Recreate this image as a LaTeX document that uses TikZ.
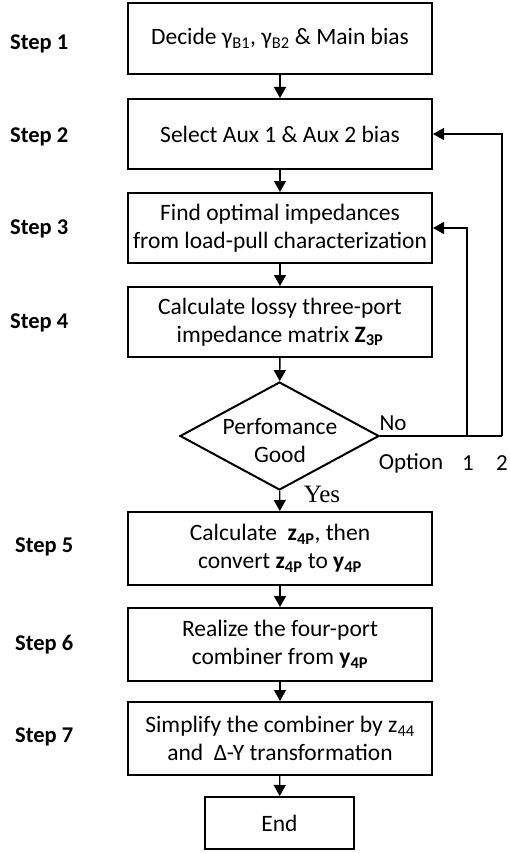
\documentclass[tikz,border=0pt]{standalone}
\usepackage{fontspec}
\setmainfont{Carlito}
\newfontfamily\serifyes{Liberation Serif}
\usetikzlibrary{shapes.geometric,arrows.meta}
\newcommand{\sbs}[1]{\textsubscript{#1}}
\begin{document}
\begin{tikzpicture}[x=1pt,y=-1pt,
  box/.style={draw,line width=2pt,minimum width=304pt,align=center,font=\fontsize{23.5}{28}\selectfont,inner sep=0pt},
  steplbl/.style={anchor=west,font=\fontsize{22.5}{26}\selectfont\bfseries,inner sep=0pt},
  lbl/.style={font=\fontsize{23}{26}\selectfont,inner sep=0pt},
  conn/.style={line width=1.4pt,-{Triangle[length=11pt,width=12pt]}},
  plain/.style={line width=1.4pt}]
\useasboundingbox (0,0) rectangle (510,853);
\node[box,minimum height=71pt] (b1) at (280,38.5) {Decide γ\sbs{B1}, γ\sbs{B2} \& Main bias};
\node[box,minimum height=70pt] (b2) at (280,134) {Select Aux 1 \& Aux 2 bias};
\node[box,minimum height=70pt] (b3) at (280,228) {Find optimal impedances\\from load-pull characterization};
\node[box,minimum height=70pt] (b4) at (280,322) {Calculate lossy three-port\\impedance matrix \textbf{Z\sbs{3P}}};
\node[draw,line width=2pt,diamond,minimum width=199pt,minimum height=108pt,inner sep=0pt] (d) at (279.5,436) {};
\node[align=center,inner sep=0pt,font=\fontsize{23.5}{28}\selectfont] (dt) at (280,441) {Perfomance\\Good};
\node[box,minimum height=73pt] (b5) at (280,548.5) {Calculate \ \textbf{z\sbs{4P}}, then\\convert \textbf{z\sbs{4P}} to \textbf{y\sbs{4P}}};
\node[box,minimum height=73pt] (b6) at (280,644.5) {Realize the four-port\\combiner from \textbf{y\sbs{4P}}};
\node[box,minimum height=73pt] (b7) at (280,738.5) {Simplify the combiner by z\sbs{44}\\and \ Δ-Y transformation};
\node[box,minimum width=149pt,minimum height=52pt] (e) at (279.5,823) {End};

\node[steplbl] (s1) at (10,44) {Step 1};
\node[steplbl] (s2) at (10,137) {Step 2};
\node[steplbl] (s3) at (10,229) {Step 3};
\node[steplbl] (s4) at (10,323) {Step 4};
\node[steplbl] (s5) at (15,547) {Step 5};
\node[steplbl] (s6) at (15,645) {Step 6};
\node[steplbl] (s7) at (15,737) {Step 7};

\draw[conn] (b1) -- (b2);
\draw[conn] (b2) -- (b3);
\draw[conn] (b3) -- (b4);
\draw[conn] (b4) -- (d);
\draw[conn] (d) -- (b5);
\draw[conn] (b5) -- (b6);
\draw[conn] (b6) -- (b7);
\draw[conn] (b7) -- (e);

\coordinate (o1) at (467,436);
\coordinate (o2) at (502,436);
\draw[plain] (d.east) -- (o2);
\draw[conn] (o2) |- (b2.east);
\draw[conn] (o1) |- (b3.east);

\node[lbl] (no) at (393,423) {No};
\node[lbl] (op) at (411,463) {Option};
\node[lbl] (n1) at (468,463) {1};
\node[lbl] (n2) at (502,463) {2};
\node[inner sep=0pt,font=\serifyes\fontsize{25}{28}\selectfont] (yes) at (322,494) {Yes};
\end{tikzpicture}
\end{document}
